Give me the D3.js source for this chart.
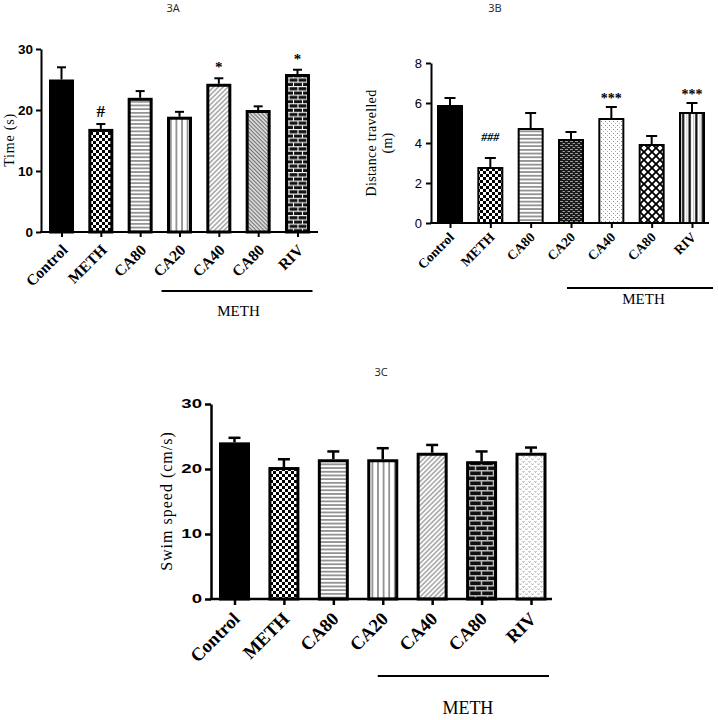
<!DOCTYPE html>
<html><head><meta charset="utf-8">
<script src="https://cdn.jsdelivr.net/npm/d3@7"></script>
<style>body{margin:0;background:#fff}svg{display:block}</style>
</head><body><svg id="c" width="718" height="720"></svg>
<script>
// ---------- data ----------
const categories = ["Control","METH","CA80","CA20","CA40","CA80","RIV"];
const timeMeans  = [25.0,16.9,22.0,18.9,24.3,20.0,25.9];
const timeErr    = [2.0,0.8,1.1,0.8,0.9,0.6,0.7];
const timeSig    = ["","#","","","*","","*"];
const timeTicks  = [0,10,20,30];
const distMeans  = [5.9,2.8,4.75,4.2,5.25,3.95,5.55];
const distErr    = [0.35,0.45,0.75,0.35,0.55,0.4,0.45];
const distSig    = ["","###","","","***","","***"];
const distTicks  = [0,2,4,6,8];
const speedMeans = [24.1,20.3,21.5,21.5,22.5,21.2,22.5];
const speedErr   = [0.7,1.2,1.2,1.7,1.2,1.5,0.8];
const speedSig   = ["","","","","","",""];
const speedTicks = [0,10,20,30];
const groupLabel = "METH";

const svg = d3.select("#c");
const defs = svg.append("defs");
function pat(id,w,h,build,tr){
  const p = defs.append("pattern").attr("id",id).attr("patternUnits","userSpaceOnUse")
    .attr("width",w).attr("height",h);
  if(tr) p.attr("patternTransform",tr);
  build(p);
}
const R=(p,x,y,w,h,f)=>p.append("rect").attr("x",x).attr("y",y).attr("width",w).attr("height",h).attr("fill",f);
const L=(p,x1,y1,x2,y2,s,w)=>p.append("line").attr("x1",x1).attr("y1",y1).attr("x2",x2).attr("y2",y2).attr("stroke",s).attr("stroke-width",w);

pat("checker",6,6,p=>{R(p,0,0,6,6,"#fff");R(p,0,0,3,3,"#000");R(p,3,3,3,3,"#000");});
pat("hlines",4,3.7,p=>{R(p,0,0,4,3.7,"#fff");L(p,0,1.85,4,1.85,"#666",1.3);});
pat("vlines",5.6,4,p=>{R(p,0,0,5.6,4,"#fff");L(p,2.8,0,2.8,4,"#8a8a8a",1.7);});
pat("diagA",3.4,4,p=>{R(p,0,0,3.4,4,"#fff");L(p,1.7,0,1.7,4,"#8c8c8c",1.2);},"rotate(45)");
pat("diagB",2.8,4,p=>{R(p,0,0,2.8,4,"#e6e6e6");L(p,1.4,0,1.4,4,"#6e6e6e",1.2);},"rotate(-45)");
pat("brick",9,8.6,p=>{R(p,0,0,9,8.6,"#111");
  L(p,0,0.6,9,0.6,"#fff",1.1);L(p,0,4.9,9,4.9,"#fff",1.1);
  L(p,1,0.6,1,4.9,"#fff",1.1);L(p,5.5,4.9,5.5,8.6,"#fff",1.1);});
pat("brick2",12,10,p=>{R(p,0,0,12,10,"#111");
  L(p,0,0.8,12,0.8,"#bdbdbd",1.5);L(p,0,5.8,12,5.8,"#bdbdbd",1.5);
  L(p,1.5,0.8,1.5,5.8,"#bdbdbd",1.5);L(p,7.5,5.8,7.5,10,"#bdbdbd",1.5);});
pat("darkgrid",5,4,p=>{R(p,0,0,5,4,"#1a1a1a");R(p,0,1,3,1,"#9a9a9a");R(p,2.5,3,3,1,"#9a9a9a");});
pat("dots",4,4,p=>{R(p,0,0,4,4,"#fff");R(p,1,1,1,1,"#8a8a8a");R(p,3,3,1,1,"#b0b0b0");});
pat("diamond",8,8,p=>{R(p,0,0,8,8,"#000");
  p.append("path").attr("d","M4,1.3L6.7,4L4,6.7L1.3,4Z M0,-2.7L2.7,0L0,2.7L-2.7,0Z M8,-2.7L10.7,0L8,2.7L5.3,0Z M0,5.3L2.7,8L0,10.7L-2.7,8Z M8,5.3L10.7,8L8,10.7L5.3,8Z").attr("fill","#fff");});
pat("vblack",6.6,4,p=>{R(p,0,0,6.6,4,"#fff");L(p,3.3,0,3.3,4,"#000",2.2);L(p,0.5,0,0.5,4,"#bbb",0.8);});
pat("squiggle",6,5,p=>{R(p,0,0,6,5,"#fff");
  p.append("path").attr("d","M0.5,1L1.5,2.5L2.5,1 M3.5,3.5L4.5,5L5.5,3.5").attr("fill","none").attr("stroke","#a8a8a8").attr("stroke-width",0.9);});

function panel(c){
  const g = svg.append("g");
  const n = c.means.length;
  const x = d3.scalePoint().domain(d3.range(n)).range(c.xRange);
  const y = d3.scaleLinear().domain([0,c.ticks[c.ticks.length-1]]).range(c.yRange);
  const y0 = y(0);
  // title
  g.append("text").attr("x",c.title[1]).attr("y",c.title[2]).attr("text-anchor","middle")
    .attr("font-family","Open Sans, sans-serif").attr("font-size",11).attr("fill","#222").text(c.title[0]);
  // bars
  g.selectAll("rect.bar").data(c.means).join("rect").attr("class","bar")
    .attr("x",(d,i)=>x(i)-c.bw/2+c.sw/2).attr("width",c.bw-c.sw)
    .attr("y",d=>y(d)+c.sw/2).attr("height",d=>y0-y(d)-c.sw/2)
    .attr("fill",(d,i)=>c.fills[i]==="solid"?"#000":`url(#${c.fills[i]})`)
    .attr("stroke","#000").attr("stroke-width",c.sw);
  // error bars
  const eb = g.selectAll("g.eb").data(c.means).join("g").attr("class","eb");
  eb.append("line").attr("x1",(d,i)=>x(i)).attr("x2",(d,i)=>x(i))
    .attr("y1",d=>y(d)).attr("y2",(d,i)=>y(d+c.err[i])).attr("stroke","#000").attr("stroke-width",c.ew);
  eb.append("line").attr("x1",(d,i)=>x(i)-c.cap/2).attr("x2",(d,i)=>x(i)+c.cap/2)
    .attr("y1",(d,i)=>y(d+c.err[i])).attr("y2",(d,i)=>y(d+c.err[i])).attr("stroke","#000").attr("stroke-width",c.ew);
  // significance
  g.selectAll("text.sig").data(c.means).join("text").attr("class","sig")
    .attr("x",(d,i)=>x(i)).attr("y",(d,i)=>y(d+c.err[i])-c.sigGap[i])
    .attr("text-anchor","middle").attr("font-family","Liberation Serif, serif")
    .attr("font-size",(d,i)=>c.sigSize[i]).attr("font-weight","bold")
    .attr("font-style",(d,i)=>c.sig[i].length>1 && c.sig[i][0]==="#"?"italic":"normal")
    .text((d,i)=>c.sig[i]);
  // y axis
  const ya = g.append("g").attr("transform",`translate(${c.x0},0)`)
    .call(d3.axisLeft(y).tickValues(c.ticks).tickSize(c.tick).tickSizeOuter(0).tickPadding(c.tickPad));
  ya.select(".domain").attr("stroke-width",c.aw);
  ya.selectAll(".tick line").attr("stroke-width",c.aw);
  ya.selectAll(".tick text").attr("font-family",c.tickFont).attr("font-weight",c.tickWeight)
    .attr("font-size",c.tickSize).attr("fill","#000")
    .each(function(){ if(c.tickStretch!==1){ const w=this.getComputedTextLength();
      d3.select(this).attr("textLength",w*c.tickStretch).attr("lengthAdjust","spacingAndGlyphs"); }});
  // x axis line + ticks
  g.append("line").attr("x1",c.x0-c.aw/2).attr("x2",c.xEnd).attr("y1",y0).attr("y2",y0)
    .attr("stroke","#000").attr("stroke-width",c.aw);
  const xa = g.append("g").attr("transform",`translate(0,${y0})`)
    .call(d3.axisBottom(x).tickSize(c.tick).tickFormat(""));
  xa.select(".domain").remove();
  xa.selectAll(".tick line").attr("stroke-width",c.aw);
  // x labels
  g.selectAll("text.xl").data(categories).join("text").attr("class","xl")
    .attr("transform",(d,i)=>`translate(${x(i)+c.lab[0]},${y0+c.lab[1]}) rotate(-45)`)
    .attr("text-anchor","end").attr("font-family","Liberation Serif, serif").attr("font-weight","bold")
    .attr("font-size",c.labSize).text(d=>d);
  // y label
  const yl = g.append("text").attr("transform",`translate(${c.ylab[0]},${c.ylab[1]}) rotate(-90)`)
    .attr("text-anchor","middle").attr("font-family","Liberation Serif, serif")
    .attr("font-size",c.ylabSize).attr("letter-spacing",c.ylabSpace);
  c.ylabText.forEach((t,k)=>yl.append("tspan").attr("x",0).attr("dy",k===0?0:c.ylabSize*1.15).text(t));
  // group bracket
  g.append("line").attr("x1",x(3)+c.br[0]).attr("x2",x(6)+c.br[1]).attr("y1",c.br[2]).attr("y2",c.br[2])
    .attr("stroke","#000").attr("stroke-width",2);
  g.append("text").attr("x",(x(3)+x(6))/2+c.brLab[0]).attr("y",c.brLab[1]).attr("text-anchor","middle")
    .attr("font-family","Liberation Serif, serif").attr("font-size",c.brLab[2]).text(groupLabel);
}

panel({title:["3A",173,12], means:timeMeans, err:timeErr, sig:timeSig, ticks:timeTicks,
  xRange:[61.5,297.5], yRange:[232,49], x0:41, xEnd:318, bw:25, sw:3, ew:2, cap:9,
  fills:["solid","checker","hlines","vlines","diagA","diagB","brick"],
  sigGap:[0,7,6,6,6,6,6], sigSize:[14,17,14,14,15,14,15],
  tick:5, tickPad:3, tickFont:"Liberation Sans, Arial, sans-serif", tickWeight:"bold", tickSize:12.5, tickStretch:1.08,
  aw:2, lab:[7,19], labSize:15.5,
  ylab:[14,140], ylabSize:14, ylabSpace:0.8, ylabText:["Time (s)"],
  br:[-18,15,291], brLab:[0,316,15]});

panel({title:["3B",495,12], means:distMeans, err:distErr, sig:distSig, ticks:distTicks,
  xRange:[450,692], yRange:[223,63], x0:431, xEnd:709, bw:26, sw:2, ew:2, cap:11,
  fills:["solid","checker","hlines","darkgrid","dots","diamond","vblack"],
  sigGap:[0,17,4,4,4,4,4], sigSize:[12,12,12,12,14,12,14],
  tick:5, tickPad:4, tickFont:"Liberation Sans, Arial, sans-serif", tickWeight:"normal", tickSize:13, tickStretch:1,
  aw:2, lab:[5,15], labSize:13.5,
  ylab:[376,143], ylabSize:14, ylabSpace:0.3, ylabText:["Distance travelled","(m)"],
  br:[-4,21,288], brLab:[12,304,15]});

panel({title:["3C",381,376], means:speedMeans, err:speedErr, sig:speedSig, ticks:speedTicks,
  xRange:[234.5,531], yRange:[599,404], x0:211, xEnd:552, bw:31, sw:3, ew:2.5, cap:12,
  fills:["solid","checker","hlines","vlines","diagA","brick2","squiggle"],
  sigGap:[0,0,0,0,0,0,0], sigSize:[14,14,14,14,14,14,14],
  tick:6, tickPad:3, tickFont:"Liberation Sans, Arial, sans-serif", tickWeight:"bold", tickSize:12, tickStretch:1.55,
  aw:2.5, lab:[6.5,21], labSize:18.5,
  ylab:[172,501], ylabSize:16, ylabSpace:1, ylabText:["Swim speed (cm/s)"],
  br:[-5,18,676], brLab:[11,714,18]});
</script>
</body></html>
